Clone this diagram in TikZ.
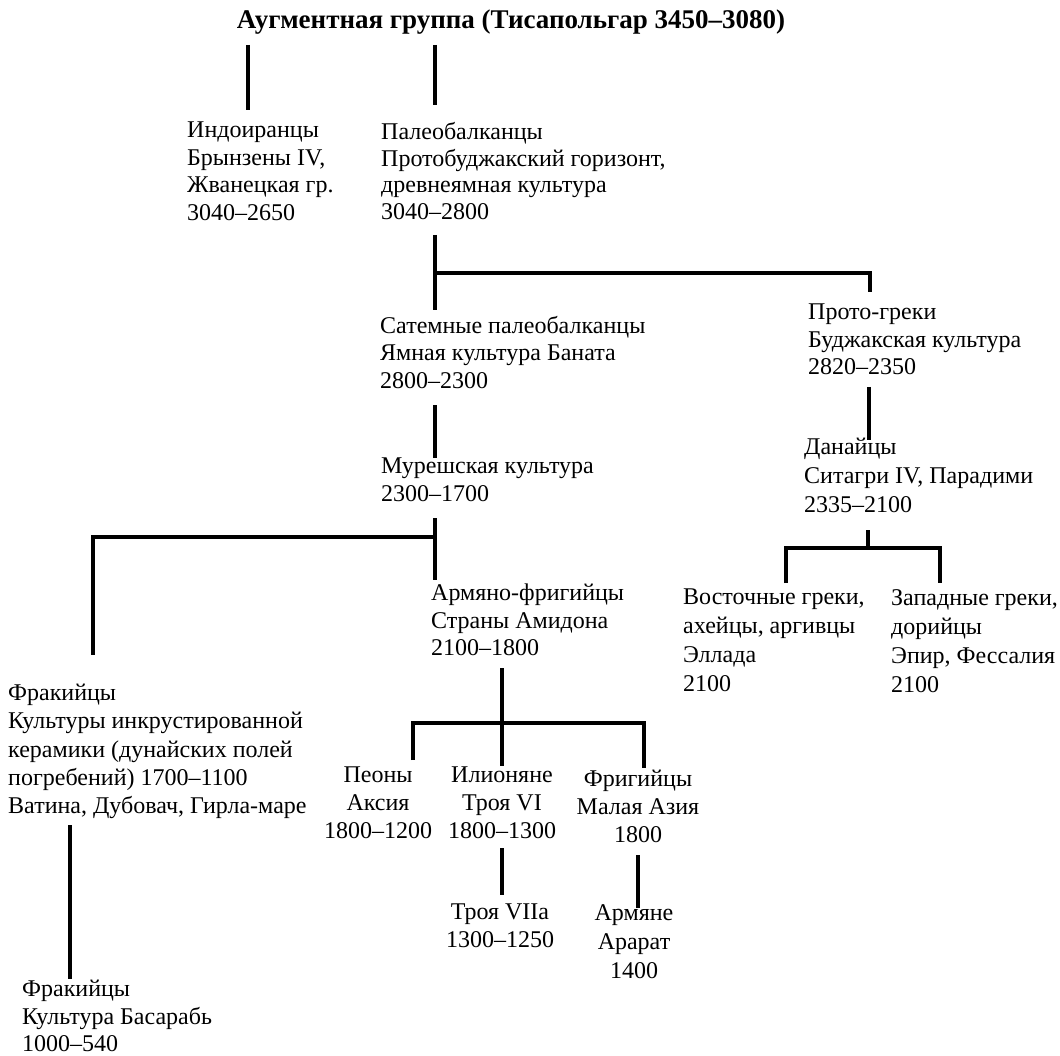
\documentclass[tikz,border=0pt]{standalone}
\usepackage{fontspec}
\setmainfont{Liberation Serif}
\usetikzlibrary{calc,positioning}

\tikzset{
  txt/.style={anchor=north west,inner sep=0pt,align=left,font=\fontsize{24}{27.5}\selectfont},
  loose/.style={font=\fontsize{24}{29}\selectfont},
  ctxt/.style={txt,anchor=north,align=center},
  stem/.style={line width=3.8pt},
  bar/.style={line width=4.6pt,line join=miter}
}

\begin{document}
\begin{tikzpicture}[x=1pt,y=-1pt]
\useasboundingbox (0,0) rectangle (1060,1056);
% title
\node[inner sep=0pt,font=\bfseries\fontsize{27}{30}\selectfont] (title) at (511,22) {Аугментная группа (Тисапольгар 3450–3080)};
% first level
\node[txt] (indo) at (187,122) {Индоиранцы\\Брынзены IV,\\Жванецкая гр.\\3040–2650};
\node[txt,font=\fontsize{24}{26.8}\selectfont] (palb) at (381,122) {Палеобалканцы\\Протобуджакский горизонт,\\древнеямная культура\\3040–2800};
% second level
\node[txt] (satem) at (380,316) {Сатемные палеобалканцы\\Ямная культура Баната\\2800–2300};
\node[txt] (proto) at (808,304) {Прото-греки\\Буджакская культура\\2820–2350};
\node[txt] (muresh) at (381,458) {Мурешская культура\\2300–1700};
\node[txt,loose] (danai) at (804,438) {Данайцы\\Ситагри IV, Парадими\\2335–2100};
% third level
\node[txt] (armfr) at (431,584) {Армяно-фригийцы\\Страны Амидона\\2100–1800};
\node[txt,loose] (vost) at (683,589) {Восточные греки,\\ахейцы, аргивцы\\Эллада\\2100};
\node[txt,loose] (zapad) at (891,589) {Западные греки,\\дорийцы\\Эпир, Фессалия\\2100};
\node[txt,font=\fontsize{24}{28.3}\selectfont] (frak) at (8,684) {Фракийцы\\Культуры инкрустированной\\керамики (дунайских полей\\погребений) 1700–1100\\Ватина, Дубовач, Гирла-маре};
% fourth level
\node[ctxt,font=\fontsize{24}{28}\selectfont] (peon) at (378,767) {Пеоны\\Аксия\\1800–1200};
\node[ctxt,font=\fontsize{24}{28}\selectfont] (ilion) at (502,767) {Илионяне\\Троя VI\\1800–1300};
\node[ctxt,font=\fontsize{24}{28}\selectfont] (frig) at (638,770) {Фригийцы\\Малая Азия\\1800};
\node[ctxt,font=\fontsize{24}{28}\selectfont] (troya) at (500,904) {Троя VIIa\\1300–1250};
\node[ctxt,loose] (armyan) at (634,904) {Армяне\\Арарат\\1400};
\node[txt,font=\fontsize{24}{27.5}\selectfont] (frakb) at (22,980) {Фракийцы\\Культура Басарабь\\1000–540};

% branch points
\coordinate (t1) at (248,45);  \coordinate (i1) at (248,110);
\coordinate (t2) at (435,45);  \coordinate (p1) at (435,105);
\coordinate (p2) at (435,235); \coordinate (s1) at (435,310);
\coordinate (j1) at (435,273); \coordinate (g1) at (870,292);
\coordinate (s2) at (435,405); \coordinate (m1) at (435,458);
\coordinate (g2) at (869,387); \coordinate (d1) at (869,440);
\coordinate (m2) at (435,518); \coordinate (a1) at (435,580);
\coordinate (j2) at (435,537); \coordinate (f1) at (93,655);
\coordinate (d2) at (868,530); \coordinate (j3) at (868,548);
\coordinate (v1) at (786,583); \coordinate (z1) at (940,583);
\coordinate (a2) at (502,668); \coordinate (il1) at (502,766);
\coordinate (j4) at (502,723);
\coordinate (pe1) at (413,760); \coordinate (fr1) at (644,768);
\coordinate (il2) at (502,848); \coordinate (tr1) at (502,895);
\coordinate (fr2) at (638,855); \coordinate (ar1) at (638,908);
\coordinate (f2) at (70,825);  \coordinate (b1) at (70,979);

% connectors
\draw[stem] (t1) -- (i1);
\draw[stem] (t2) -- (p1);
\draw[stem] (p2) -- (s1);
\draw[bar] (j1) -| (g1);
\draw[stem] (s2) -- (m1);
\draw[stem] (g2) -- (d1);
\draw[stem] (m2) -- (a1);
\draw[bar] (j2) -| (f1);
\draw[stem] (d2) -- (j3);
\draw[bar] (v1) |- (j3) -| (z1);
\draw[stem] (a2) -- (il1);
\draw[bar] (pe1) |- (j4) -| (fr1);
\draw[stem] (il2) -- (tr1);
\draw[stem] (fr2) -- (ar1);
\draw[stem] (f2) -- (b1);
\end{tikzpicture}
\end{document}
